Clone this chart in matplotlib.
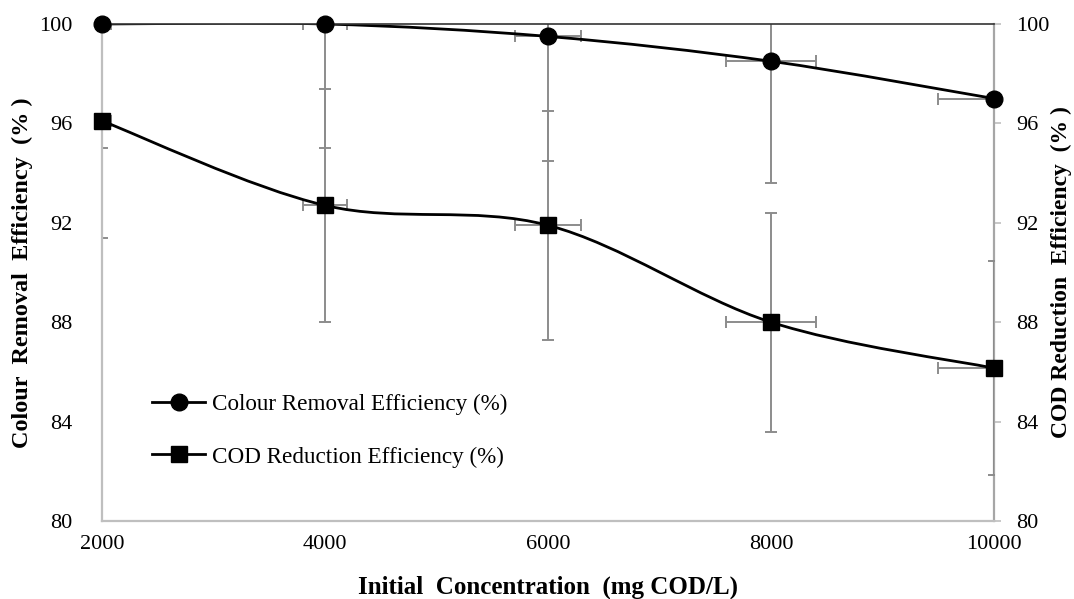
import matplotlib
matplotlib.use("Agg")
import matplotlib.pyplot as plt
from matplotlib.path import Path
from matplotlib.patches import PathPatch
from matplotlib.lines import Line2D

# ---- data ----
concentration = [2000, 4000, 6000, 8000, 10000]
colour_removal = [100.0, 100.0, 99.5, 98.5, 97.0]
cod_reduction = [96.1, 92.7, 91.9, 88.0, 86.15]
colour_yerr = [5.0, 5.0, 5.0, 4.9, 0.0]
cod_yerr = [4.7, 4.7, 4.6, 4.4, 4.3]
colour_xerr = [80, 200, 300, 400, 500]
cod_xerr = [80, 200, 300, 400, 500]
x_ticks = [2000, 4000, 6000, 8000, 10000]
y_ticks = [80, 84, 88, 92, 96, 100]
series_labels = ["Colour Removal Efficiency (%)", "COD Reduction Efficiency (%)"]

plt.rcParams['font.family'] = ['Liberation Serif', 'DejaVu Serif']

fig = plt.figure(figsize=(10.74, 5.99), dpi=100)
ax = fig.add_axes([102/1074, 78/599, 892/1074, 497/599])


def smooth_path(xs, ys):
    """Excel-like smoothed line: cubic Bezier segments (Catmull-Rom tangents)."""
    n = len(xs)
    verts = [(xs[0], ys[0])]
    codes = [Path.MOVETO]
    for i in range(n - 1):
        x0, y0 = xs[max(i - 1, 0)], ys[max(i - 1, 0)]
        x1, y1 = xs[i], ys[i]
        x2, y2 = xs[i + 1], ys[i + 1]
        x3, y3 = xs[min(i + 2, n - 1)], ys[min(i + 2, n - 1)]
        c1 = (x1 + (x2 - x0) / 6.0, y1 + (y2 - y0) / 6.0)
        c2 = (x2 - (x3 - x1) / 6.0, y2 - (y3 - y1) / 6.0)
        verts += [c1, c2, (x2, y2)]
        codes += [Path.CURVE4] * 3
    return Path(verts, codes)


err_kw = dict(fmt='none', ecolor='#8c8c8c', elinewidth=1.4, capsize=4.5,
              capthick=1.4, zorder=1)
ax.errorbar(concentration, colour_removal, yerr=colour_yerr, xerr=colour_xerr, **err_kw)
ax.errorbar(concentration, cod_reduction, yerr=cod_yerr, xerr=cod_xerr, **err_kw)

for ys in (colour_removal, cod_reduction):
    ax.add_patch(PathPatch(smooth_path(concentration, ys), fill=False,
                           edgecolor='black', lw=2.0, zorder=2))

ax.plot(concentration, colour_removal, linestyle='none', marker='o', ms=12,
        color='black', zorder=5, clip_on=False)
ax.plot(concentration, cod_reduction, linestyle='none', marker='s', ms=11.5,
        color='black', zorder=5, clip_on=False)

ax.set_xlim(2000, 10000)
ax.set_ylim(80, 100)
ax.set_xticks(x_ticks)
ax.set_yticks(y_ticks)
ax.tick_params(axis='x', length=0, labelsize=16, pad=10)
ax.tick_params(axis='y', length=0, labelsize=16, pad=21)

for side in ('left', 'bottom'):
    ax.spines[side].set_color('#bfbfbf')
    ax.spines[side].set_linewidth(1.6)
ax.spines['right'].set_visible(False)
ax.spines['top'].set_color('#333333')
ax.spines['top'].set_linewidth(1.2)

ax2 = ax.twinx()
ax2.set_position(ax.get_position())
ax2.set_ylim(80, 100)
ax2.set_yticks(y_ticks)
ax2.tick_params(axis='y', length=5, width=1.2, color='#bfbfbf', labelsize=16, pad=11)
for side in ('left', 'bottom', 'top'):
    ax2.spines[side].set_visible(False)
ax2.spines['right'].set_color('#a6a6a6')
ax2.spines['right'].set_linewidth(1.6)
ax2.set_zorder(0)
ax.set_zorder(1)
ax.patch.set_visible(False)

ax.set_xlabel("Initial  Concentration  (mg COD/L)", fontsize=18, fontweight='bold', va='center')
ax.xaxis.set_label_coords(0.5, (521 - 587) / 497)
ax.set_ylabel("Colour  Removal  Efficiency  (% )", fontsize=17.5, fontweight='bold', va='center')
ax.yaxis.set_label_coords((22 - 102) / 892, 0.5)
ax2.set_ylabel("COD Reduction  Efficiency  (% )", fontsize=17, fontweight='bold', va='center')
ax2.yaxis.set_label_coords((1061 - 102) / 892, 0.5)

handles = [Line2D([], [], color='black', lw=2, marker='o', ms=12),
           Line2D([], [], color='black', lw=2, marker='s', ms=11.5)]
ax.legend(handles, series_labels, loc='upper left', bbox_to_anchor=(0.056, 0.256),
          frameon=False, fontsize=16.7, handlelength=2.3, handletextpad=0.3,
          labelspacing=1.35, borderpad=0, borderaxespad=0)

fig.savefig("out.png", dpi=100)
